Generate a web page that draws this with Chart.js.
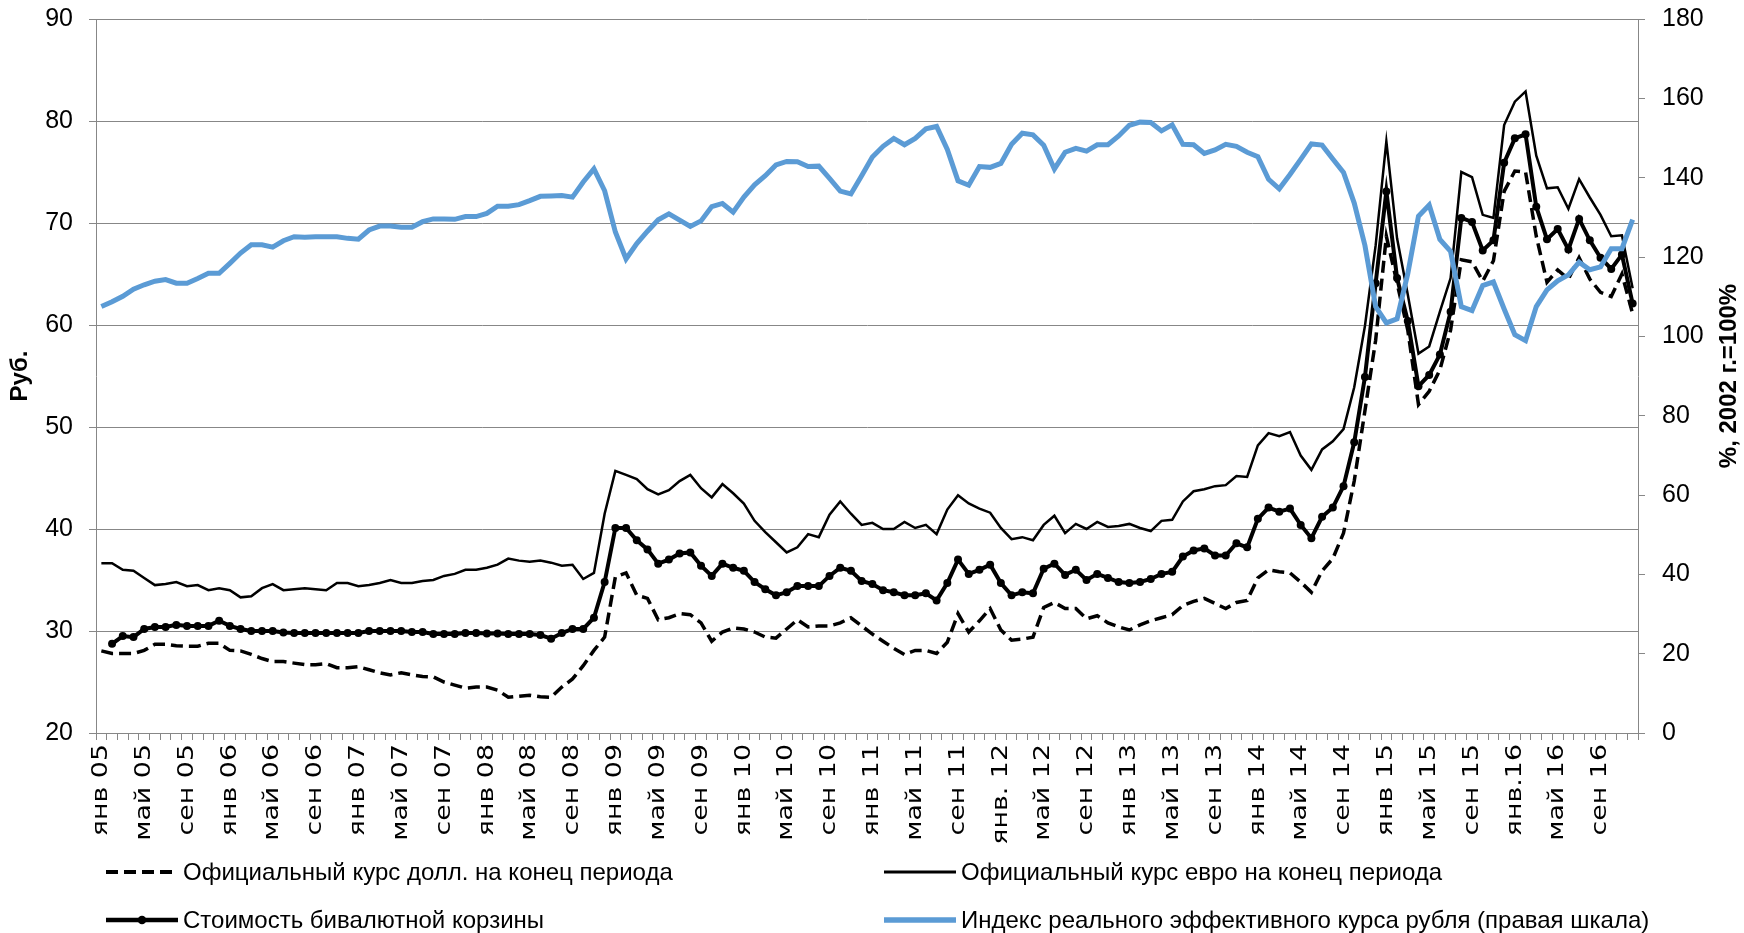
<!DOCTYPE html>
<html>
<head>
<meta charset="utf-8">
<script src="https://cdn.jsdelivr.net/npm/chart.js@4.4.1/dist/chart.umd.min.js"></script>
<style>
html,body{margin:0;padding:0;background:#fff;}
#wrap{position:relative;width:1744px;height:933px;overflow:hidden;}
#c{position:absolute;left:0;top:0;}
.leg{position:absolute;height:30px;display:flex;align-items:center;white-space:nowrap;font-family:"Liberation Sans",Arial,sans-serif;font-size:24px;color:#000;}
.leg svg{margin-right:5px;}
</style>
</head>
<body>
<div id="wrap"><canvas id="c" width="1744" height="933"></canvas></div>
<script>
const monthNames = ['янв','фев','мар','апр','май','июн','июл','авг','сен','окт','ноя','дек'];
const years = ['05','06','07','08','09','10','11','12','13','14','15','16'];
const categories = [];
years.forEach(y => monthNames.forEach(m => categories.push(m + ' ' + y)));

const tickLabels = ['янв 05','май 05','сен 05','янв 06','май 06','сен 06','янв 07','май 07','сен 07',
  'янв 08','май 08','сен 08','янв 09','май 09','сен 09','янв 10','май 10','сен 10',
  'янв 11','май 11','сен 11','янв. 12','май 12','сен 12','янв 13','май 13','сен 13',
  'янв 14','май 14','сен 14','янв 15','май 15','сен 15','янв.16','май 16','сен 16'];

const seriesNames = ['Официальный курс долл. на конец периода','Официальный курс евро на конец периода',
  'Стоимость бивалютной корзины','Индекс реального эффективного курса рубля (правая шкала)'];
const leftTitle = 'Руб.';
const rightTitle = '%, 2002 г.=100%';

const usdRate = [
 28.05,27.8,27.8,27.8,28.1,28.7,28.7,28.55,28.5,28.5,28.8,28.8,
 28.1,28.05,27.7,27.3,27.0,27.0,26.85,26.7,26.7,26.8,26.4,26.4,
 26.5,26.2,25.9,25.7,25.9,25.7,25.55,25.5,25.0,24.7,24.4,24.5,
 24.5,24.2,23.5,23.6,23.7,23.55,23.5,24.5,25.3,26.6,28.1,29.4,
 35.3,35.7,33.5,33.2,31.1,31.3,31.7,31.6,30.8,29.0,29.9,30.3,
 30.2,29.9,29.4,29.3,30.2,31.1,30.4,30.5,30.5,30.8,31.3,30.5,
 29.7,29.0,28.3,27.7,28.1,28.1,27.8,28.9,31.7,29.9,31.0,32.2,
 30.1,29.1,29.2,29.4,32.3,32.8,32.2,32.2,31.2,31.5,30.8,30.4,
 30.1,30.6,31.0,31.3,31.6,32.5,32.9,33.2,32.7,32.2,32.8,33.0,
 35.2,36.0,35.8,35.7,34.8,33.8,35.9,37.1,39.6,44.7,51.6,58.5,
 68.7,64.1,59.5,52.2,53.5,55.6,59.5,66.4,66.2,64.3,66.3,73.1,
 75.1,75.0,68.7,64.2,65.4,64.5,66.6,64.5,63.2,62.8,65.0,61.1];

const eurRate = [
 36.65,36.65,36.0,35.9,35.2,34.5,34.6,34.8,34.4,34.5,34.0,34.2,
 34.0,33.3,33.4,34.2,34.6,34.0,34.1,34.2,34.1,34.0,34.7,34.7,
 34.4,34.5,34.7,35.0,34.7,34.7,34.9,35.0,35.4,35.6,36.0,36.0,
 36.2,36.5,37.1,36.9,36.8,36.9,36.7,36.4,36.5,35.1,35.7,41.5,
 45.7,45.3,44.9,43.9,43.4,43.8,44.7,45.3,44.0,43.1,44.4,43.5,
 42.5,40.8,39.7,38.7,37.7,38.2,39.5,39.2,41.4,42.7,41.5,40.4,
 40.6,40.0,40.0,40.7,40.1,40.4,39.5,41.9,43.3,42.5,42.0,41.6,
 40.1,39.0,39.2,38.9,40.4,41.3,39.6,40.5,40.0,40.7,40.2,40.3,
 40.5,40.1,39.8,40.8,40.9,42.7,43.7,43.9,44.2,44.3,45.2,45.1,
 48.2,49.4,49.1,49.5,47.2,45.8,47.8,48.6,49.8,53.9,59.9,67.8,
 78.0,68.5,63.0,57.2,57.9,61.3,64.6,75.0,74.5,70.8,70.5,79.6,
 81.9,82.9,76.6,73.4,73.5,71.4,74.3,72.5,70.8,68.7,68.8,63.6];

const basketCost = [
 null,28.74,29.5,29.4,30.2,30.4,30.4,30.6,30.5,30.5,30.5,31.0,
 30.5,30.2,30.0,30.0,30.0,29.85,29.8,29.8,29.8,29.8,29.8,29.8,
 29.8,30.0,30.0,30.0,30.0,29.9,29.9,29.7,29.7,29.7,29.8,29.8,
 29.75,29.75,29.7,29.7,29.7,29.6,29.25,29.8,30.2,30.2,31.3,34.8,
 40.1,40.1,38.9,38.0,36.6,37.0,37.6,37.7,36.4,35.4,36.6,36.2,
 35.9,34.8,34.1,33.5,33.8,34.4,34.4,34.4,35.4,36.2,35.9,34.9,
 34.6,34.0,33.8,33.5,33.5,33.7,33.0,34.7,37.0,35.6,36.0,36.5,
 34.7,33.5,33.8,33.7,36.1,36.6,35.5,36.0,35.0,35.6,35.2,34.8,
 34.7,34.8,35.1,35.6,35.8,37.3,37.9,38.1,37.4,37.4,38.6,38.2,
 41.0,42.1,41.7,42.0,40.4,39.1,41.2,42.1,44.2,48.5,54.9,64.1,
 73.1,64.6,60.4,54.0,55.1,57.1,61.3,70.5,70.1,67.3,68.3,75.9,
 78.3,78.7,71.6,68.4,69.4,67.4,70.4,68.3,66.6,65.5,66.9,62.1];

const reerIndex = [
 107.5,108.7,110.1,111.9,113.0,113.9,114.3,113.4,113.4,114.6,115.9,115.9,
 118.4,121.0,123.1,123.1,122.5,124.1,125.1,125.0,125.1,125.1,125.1,124.7,
 124.5,126.8,127.8,127.8,127.5,127.5,128.9,129.6,129.6,129.5,130.2,130.2,
 131.0,132.8,132.8,133.2,134.2,135.3,135.4,135.5,135.1,138.9,142.2,136.7,
 126.3,119.5,123.4,126.5,129.4,130.9,129.3,127.7,129.1,132.7,133.5,131.3,
 135.1,138.2,140.5,143.2,144.1,144.0,142.8,142.9,139.8,136.6,135.9,140.5,
 145.2,147.9,149.9,148.3,149.9,152.3,152.9,147.1,139.2,138.1,142.8,142.6,
 143.6,148.4,151.2,150.8,148.2,142.2,146.4,147.4,146.7,148.3,148.3,150.5,
 153.2,154.0,153.9,151.8,153.3,148.4,148.3,146.1,147.0,148.4,147.9,146.4,
 145.3,139.6,137.2,140.8,144.6,148.5,148.2,144.7,141.3,133.6,122.9,107.5,
 103.4,104.4,115.8,130.3,133.1,124.4,121.4,107.5,106.5,112.8,113.7,106.9,
 100.4,98.9,107.5,111.7,114.0,115.5,118.7,116.8,117.5,122.1,122.1,129.4];

const gridColor = '#878787';
const yTickFont = {family: '"Liberation Sans", Arial, sans-serif', size: 25};

const textPlugin = {
  id: 'axisTexts',
  afterDraw(chart) {
    const ctx = chart.ctx, ca = chart.chartArea;
    const cy = (ca.top + ca.bottom) / 2;
    // axis titles (both read bottom-to-top)
    [[leftTitle, 20], [rightTitle, 1729]].forEach(([txt, x]) => {
      ctx.save();
      ctx.fillStyle = '#000';
      ctx.font = 'bold 24px "Liberation Sans", Arial, sans-serif';
      ctx.textAlign = 'center';
      ctx.textBaseline = 'middle';
      ctx.translate(x, cy);
      ctx.rotate(-Math.PI / 2);
      ctx.fillText(txt, 0, 0);
      ctx.restore();
    });
    // category labels, every fourth month, rotated
    const xs = chart.scales.x;
    tickLabels.forEach((txt, k) => {
      const px = xs.getPixelForValue(k * 4);
      ctx.save();
      ctx.fillStyle = '#000';
      ctx.font = '22px "DejaVu Sans", Verdana, sans-serif';
      ctx.textAlign = 'right';
      ctx.textBaseline = 'middle';
      ctx.translate(px, ca.bottom + 11);
      ctx.rotate(-Math.PI / 2);
      ctx.scale(1.22, 1);
      ctx.fillText(txt, 0, 0);
      ctx.restore();
    });
  }
};

function fixVertical(width) {
  return function (s) {
    s.width = width;
    s.paddingTop = 0;
    s.paddingBottom = 0;
  };
}

const chart = new Chart(document.getElementById('c'), {
  type: 'line',
  data: {
    labels: categories,
    datasets: [
      {label: seriesNames[0], data: usdRate, yAxisID: 'y', borderColor: '#000', borderWidth: 3.5,
       borderDash: [12, 6], pointRadius: 0, tension: 0, order: 3},
      {label: seriesNames[1], data: eurRate, yAxisID: 'y', borderColor: '#000', borderWidth: 2.5,
       pointRadius: 0, tension: 0, order: 2},
      {label: seriesNames[2], data: basketCost, yAxisID: 'y', borderColor: '#000', borderWidth: 4,
       pointRadius: 4, pointBackgroundColor: '#000', pointBorderWidth: 0, tension: 0, order: 1},
      {label: seriesNames[3], data: reerIndex, yAxisID: 'y1', borderColor: '#5B9BD5', borderWidth: 5,
       pointRadius: 0, tension: 0, order: 0}
    ]
  },
  options: {
    responsive: false,
    animation: false,
    devicePixelRatio: 1,
    layout: {padding: {top: 19, bottom: 100, left: 0, right: 0}},
    plugins: {legend: {display: false}, tooltip: {enabled: false}},
    scales: {
      x: {
        type: 'category',
        offset: true,
        grid: {offset: true, drawOnChartArea: false, drawTicks: true, tickLength: 7, color: gridColor},
        border: {display: true, color: gridColor},
        ticks: {autoSkip: false, maxRotation: 0, callback: () => ''},
        afterFit(s) { s.height = 100; s.paddingLeft = 0; s.paddingRight = 0; }
      },
      y: {
        position: 'left', min: 20, max: 90,
        ticks: {stepSize: 10, padding: 16, font: yTickFont, color: '#000'},
        grid: {color: gridColor, tickLength: 7, lineWidth: 1},
        border: {color: gridColor},
        afterFit: fixVertical(96)
      },
      y1: {
        position: 'right', min: 0, max: 180,
        ticks: {stepSize: 20, padding: 17, font: yTickFont, color: '#000'},
        grid: {drawOnChartArea: false, tickLength: 7, color: gridColor},
        border: {color: gridColor},
        afterFit: fixVertical(106)
      }
    }
  },
  plugins: [textPlugin]
});

// legend (HTML), built from the dataset definitions
const legendPos = [[106, 857], [884, 857], [106, 905], [884, 905]];
const wrap = document.getElementById('wrap');
chart.data.datasets.forEach((ds, k) => {
  const d = document.createElement('div');
  d.className = 'leg';
  d.style.left = legendPos[k][0] + 'px';
  d.style.top = legendPos[k][1] + 'px';
  const ns = 'http://www.w3.org/2000/svg';
  const svg = document.createElementNS(ns, 'svg');
  svg.setAttribute('width', '72'); svg.setAttribute('height', '30');
  const ln = document.createElementNS(ns, 'line');
  ln.setAttribute('x1', '0'); ln.setAttribute('x2', '72');
  ln.setAttribute('y1', '15'); ln.setAttribute('y2', '15');
  ln.setAttribute('stroke', ds.borderColor);
  ln.setAttribute('stroke-width', String(ds.borderWidth + (k === 1 ? 0.6 : 0.3)));
  if (ds.borderDash) ln.setAttribute('stroke-dasharray', ds.borderDash.join(' '));
  svg.appendChild(ln);
  if (ds.pointRadius > 0) {
    const c = document.createElementNS(ns, 'circle');
    c.setAttribute('cx', '36'); c.setAttribute('cy', '15'); c.setAttribute('r', String(ds.pointRadius + 0.3));
    c.setAttribute('fill', '#000');
    svg.appendChild(c);
  }
  d.appendChild(svg);
  const t = document.createElement('span');
  t.textContent = ds.label;
  d.appendChild(t);
  wrap.appendChild(d);
});
</script>
</body>
</html>
